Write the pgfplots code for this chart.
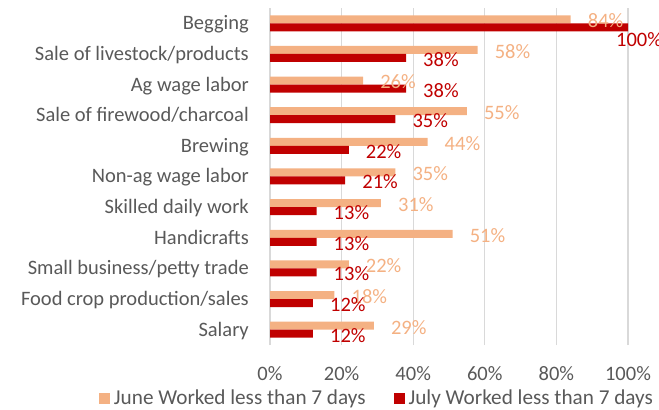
\documentclass[border=0pt]{standalone}
\usepackage{fontspec}
\setmainfont{Carlito}
\usepackage{pgfplots}
\usepackage{pgfplotstable}
\pgfplotsset{compat=1.18}
\definecolor{june}{HTML}{F4B183}
\definecolor{july}{HTML}{C00000}
\definecolor{txt}{HTML}{595959}
\definecolor{grd}{HTML}{D9D9D9}
\pgfplotstableread{
idx june july jx jy
10 84 100 -12 -12.5
9 58 38 17 -1.5
8 26 38 17 -1.5
7 55 35 17 -1.5
6 44 22 17 -1.5
5 35 21 17 -1.5
4 31 13 17 -1.5
3 51 13 17 -1.5
2 22 13 17 -1.5
1 18 12 17 -1.5
0 29 12 17 -1.5
}\data
\newcommand{\ff}{\fontsize{20.5bp}{24bp}\selectfont}
\newcommand{\fl}{\fontsize{21.2bp}{24bp}\selectfont}
\begin{document}
\ff
\begin{tikzpicture}
\begin{axis}[
  at={(270bp,65bp)}, anchor=south west,
  scale only axis, width=358bp, height=337bp,
  xbar, bar width=8bp,
  xmin=0, xmax=100, ymin=-0.5, ymax=10.5,
  ytick={0,...,10},
  yticklabels={Salary, Food crop production/sales, Small business/petty trade, Handicrafts, Skilled daily work, Non-ag wage labor, Brewing, Sale of firewood/charcoal, Ag wage labor, Sale of livestock/products, Begging},
  xtick={0,20,...,100},
  xticklabels={0\%,20\%,40\%,60\%,80\%,100\%},
  xmajorgrids, major grid style={grd, line width=1.3bp},
  axis line style={draw=none}, major tick length=0pt,
  tick label style={txt, font=\ff, inner sep=0pt},
  xticklabel style={anchor=base, yshift=-35bp},
  yticklabel style={anchor=base east, xshift=-21bp, yshift=-6.5bp},
  clip=false,
  point meta=x,
  /pgf/number format/assume math mode=true,
  legend columns=2,
  legend style={at={(-0.4777,-0.1602)}, anchor=west, draw=none, fill=none,
    inner sep=0pt, outer sep=0pt,
    nodes={inner sep=0pt, text=txt, font=\fl},
    /tikz/every odd column/.append style={column sep=4bp},
    /tikz/every even column/.append style={column sep=28bp}},
]
\addplot[draw=none, fill=june, bar shift=4bp,
  legend image code/.code={\fill[june] (0bp,-5.5bp) rectangle (11bp,5.5bp);},
  nodes near coords={\pgfmathprintnumber{\pgfplotspointmeta}\%},
  every node near coord/.append style={anchor=west, inner sep=0pt, text=june, font=\ff, xshift=17bp, yshift=-1.5bp}]
  table[x=june, y=idx]{\data};
\addlegendentry{June Worked less than 7 days}
\addplot[draw=none, fill=july, bar shift=-4bp,
  legend image code/.code={\fill[july] (0bp,-5.5bp) rectangle (11bp,5.5bp);},
  visualization depends on={\thisrow{jx} \as \jx},
  visualization depends on={\thisrow{jy} \as \jy},
  nodes near coords={\pgfmathprintnumber{\pgfplotspointmeta}\%},
  every node near coord/.append style={anchor=west, inner sep=0pt, text=july, font=\ff, xshift=\jx bp, yshift=\jy bp}]
  table[x=july, y=idx]{\data};
\addlegendentry{July Worked less than 7 days}
\end{axis}
\pgfresetboundingbox
\path[use as bounding box] (0,0) rectangle (659bp,410bp);
\end{tikzpicture}
\end{document}
